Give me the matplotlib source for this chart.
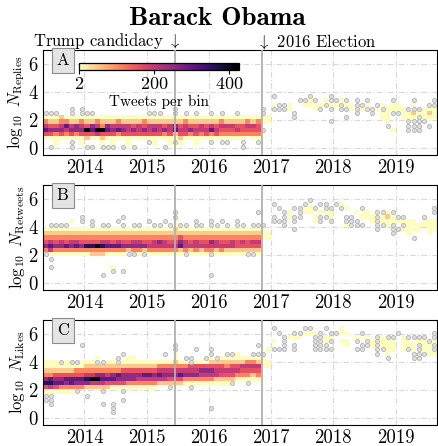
import numpy as np
import matplotlib
matplotlib.use("Agg")
import matplotlib.pyplot as plt

plt.rcParams["font.family"] = "serif"
plt.rcParams["font.serif"] = ["cmr10"]
plt.rcParams["mathtext.fontset"] = "cm"
plt.rcParams["axes.unicode_minus"] = False
plt.rcParams["axes.formatter.use_mathtext"] = True

# monthly bins, May 2013 .. Aug 2019
first_month = 2013 + 4 / 12.0
n_months = 76
candidacy = 2015 + 166 / 365.0   # 16 Jun 2015
election = 2016 + 312 / 365.0    # 8 Nov 2016

# count level codes ("o" = a single tweet, drawn as a dot)
level_counts = {"1": 3, "2": 50, "3": 110, "4": 160, "5": 200, "6": 250, "7": 300, "8": 360, "9": 420}

# dense period May 2013 - Oct 2016, one string per month, rows bottom -> top
replies_band = [
    ".147531.", ".146421.", "1136421.", ".146532.", ".135731.", ".146521.", ".136621.", "1146531.",
    ".249421.", ".147621.", ".159531.", "1249321.", ".147621.", "1146521.", ".137531.", ".146521.",
    "1145521.", ".146421.", ".145521.", ".146431.", ".145521.", "1146521.", ".145521.", ".136421.",
    "1145521.", ".127621.", "1245421.", ".145531.", ".136421.", "1145421.", ".135521.", ".145421.",
    ".137521.", ".145421.", ".134531.", ".134521.", ".134521.", ".135421.", ".134421.", "..34531.",
    ".134521.", ".134431.",
]
replies_extra = [
    (0, 9, "o"), (1, 1, "o"), (1, 9, "o"), (2, 9, "o"), (5, 1, "o"), (5, 2, "o"), (5, 9, "o"), (5, 10, "o"),
    (7, 9, "o"), (7, 10, "o"), (8, 1, "o"), (8, 9, "o"), (9, 1, "o"), (9, 9, "o"), (11, 1, "o"), (12, 1, "o"),
    (13, 1, "o"), (15, 1, "o"), (17, 1, "o"), (20, 2, "o"), (20, 9, "o"), (21, 9, "o"), (22, 9, "o"),
    (23, 1, "o"), (25, 2, "o"), (25, 9, "o"), (25, 10, "o"), (27, 9, "o"), (29, 9, "o"), (32, 2, "o"),
    (32, 9, "o"), (34, 2, "o"), (34, 9, "o"), (35, 2, "o"), (37, 9, "o"), (38, 1, "o"), (38, 2, "o"),
    (41, 2, "o"),
    (42, 5, "o"), (42, 7, "1"), (42, 8, "1"), (42, 9, "o"), (42, 10, "o"), (43, 7, "1"), (43, 8, "1"),
    (44, 10, "o"), (44, 11, "1"), (44, 13, "o"), (45, 10, "o"), (45, 11, "o"), (46, 10, "o"), (46, 11, "o"),
    (47, 10, "1"), (47, 11, "1"), (48, 8, "o"), (48, 9, "o"), (49, 12, "o"), (50, 11, "1"), (50, 12, "o"),
    (51, 11, "1"), (51, 12, "1"), (51, 13, "o"), (52, 10, "1"), (52, 11, "1"), (52, 12, "o"),
    (53, 10, "o"), (53, 11, "1"), (54, 11, "o"), (54, 12, "1"),
    (55, 7, "o"), (55, 10, "o"), (55, 11, "1"), (55, 12, "o"), (55, 13, "o"), (56, 11, "1"), (56, 12, "o"),
    (57, 10, "o"), (57, 11, "o"), (57, 12, "1"), (58, 8, "o"), (58, 10, "o"), (58, 11, "1"), (58, 12, "o"),
    (59, 10, "1"), (59, 11, "1"), (60, 9, "o"), (60, 10, "o"), (60, 11, "o"), (60, 12, "o"),
    (61, 10, "1"), (61, 11, "o"), (62, 10, "o"), (62, 11, "1"), (62, 12, "o"), (63, 9, "o"), (63, 10, "o"),
    (64, 10, "1"), (64, 11, "o"), (65, 8, "1"), (65, 9, "1"), (65, 10, "o"), (65, 11, "1"),
    (66, 6, "o"), (66, 7, "1"), (66, 8, "1"), (66, 9, "1"), (66, 10, "1"),
    (67, 5, "1"), (67, 9, "o"), (67, 10, "1"), (67, 11, "1"), (67, 12, "o"),
    (68, 9, "o"), (68, 10, "1"), (68, 11, "1"), (69, 8, "1"), (69, 9, "1"), (69, 10, "1"),
    (70, 5, "o"), (70, 6, "o"), (70, 7, "o"), (70, 8, "1"), (70, 9, "1"), (70, 10, "o"),
    (71, 5, "o"), (71, 6, "o"), (71, 7, "o"), (71, 8, "1"), (71, 9, "2"), (71, 10, "o"), (71, 11, "1"), (71, 12, "o"),
    (72, 5, "o"), (72, 6, "o"), (72, 7, "o"), (72, 8, "o"), (72, 9, "1"), (72, 10, "o"),
    (73, 7, "o"), (73, 8, "1"), (73, 9, "1"), (73, 10, "1"),
    (74, 6, "o"), (74, 8, "1"), (74, 9, "2"), (74, 10, "1"), (74, 11, "o"),
    (75, 8, "1"), (75, 9, "1"), (75, 10, "1"), (75, 11, "o"), (75, 12, "o"),
]

retweets_band = [
    ".1364321..", ".1575321..", ".1364321..", ".1365321..", ".1374321..", ".1365321.1", ".1375321..",
    ".1364321..", ".1384321..", ".2384321..", ".2394321..", ".2385321..", ".1375321..", ".1374321..",
    ".1375321..", ".1364321..", ".1264321..", ".1365321..", ".1365321..", ".1264321..", ".1354321..",
    ".1355321..", ".1356321..", ".1355321..", ".1354321..", ".1354322..", ".1276421..", ".1355321..",
    ".1254321..", ".1355321..", ".1254321..", ".1354321..", ".1356321..", ".1255321..", ".1354321..",
    ".1254321..", ".1255321..", ".1244321..", ".1245321..", ".1244321..", ".1245321..", ".1245321..",
]
retweets_extra = [
    (0, 8, "o"), (1, 7, "o"), (1, 5, "o"), (1, 15, "o"), (2, 15, "o"), (3, 15, "o"), (4, 15, "o"),
    (7, 16, "o"), (7, 17, "o"), (9, 16, "o"), (9, 15, "o"), (11, 15, "o"), (12, 15, "o"),
    (11, 3, "o"), (13, 4, "o"), (13, 5, "1"), (15, 4, "o"), (14, 16, "o"), (15, 15, "o"), (15, 17, "o"),
    (16, 8, "o"), (17, 8, "o"), (19, 8, "o"), (17, 15, "o"), (18, 15, "o"), (20, 16, "o"), (21, 15, "o"),
    (22, 15, "o"), (23, 16, "o"), (24, 15, "o"), (25, 15, "1"), (25, 16, "1"), (25, 17, "o"), (25, 18, "o"),
    (26, 15, "o"), (27, 15, "o"), (27, 8, "o"), (29, 16, "o"), (29, 15, "o"), (30, 15, "o"),
    (32, 16, "o"), (32, 15, "o"), (32, 8, "o"), (32, 3, "o"), (33, 15, "o"), (34, 16, "o"), (35, 15, "o"),
    (37, 16, "o"), (37, 15, "o"), (38, 15, "o"), (39, 8, "o"), (40, 8, "o"), (40, 15, "o"), (41, 15, "o"),
    (41, 18, "o"),
    (42, 12, "1"), (42, 13, "1"), (42, 14, "1"), (42, 15, "o"), (43, 12, "1"), (43, 13, "1"),
    (44, 20, "o"), (44, 17, "o"), (44, 16, "o"), (45, 19, "o"), (45, 16, "o"),
    (46, 18, "o"), (46, 17, "o"), (46, 16, "o"), (46, 15, "o"), (47, 17, "1"), (47, 18, "1"),
    (48, 19, "o"), (48, 17, "o"), (48, 16, "o"), (48, 14, "o"), (49, 19, "o"), (49, 18, "o"), (49, 17, "o"),
    (50, 20, "o"), (50, 19, "1"), (50, 18, "1"), (51, 21, "o"), (51, 19, "1"), (51, 18, "1"),
    (52, 19, "o"), (52, 17, "1"), (52, 16, "1"), (53, 20, "o"), (53, 17, "o"), (53, 16, "o"), (53, 18, "1"),
    (54, 20, "o"), (54, 19, "o"), (54, 17, "o"), (54, 18, "1"), (55, 19, "o"), (55, 16, "o"), (55, 17, "1"),
    (55, 18, "1"), (56, 20, "o"), (57, 19, "o"), (57, 20, "1"), (58, 17, "o"), (58, 16, "o"), (58, 19, "1"),
    (58, 15, "1"), (59, 17, "o"), (59, 16, "o"), (59, 15, "o"), (60, 16, "o"), (60, 15, "o"), (60, 18, "1"),
    (61, 19, "o"), (61, 15, "o"), (61, 17, "1"), (62, 17, "1"), (62, 18, "1"), (63, 17, "1"), (63, 16, "1"),
    (64, 18, "o"), (64, 17, "o"), (64, 16, "o"), (64, 15, "o"), (64, 14, "o"),
    (65, 18, "o"), (65, 15, "o"), (65, 17, "1"), (65, 16, "1"),
    (66, 17, "2"), (66, 16, "1"), (66, 18, "1"), (66, 15, "1"),
    (67, 18, "o"), (67, 15, "o"), (67, 14, "o"), (67, 13, "o"), (67, 17, "1"), (67, 16, "1"),
    (68, 17, "o"), (68, 14, "o"), (68, 16, "1"), (69, 17, "o"), (69, 15, "o"), (69, 16, "1"), (69, 14, "1"),
    (70, 16, "1"), (70, 15, "1"), (70, 13, "1"), (70, 14, "1"), (71, 12, "o"), (71, 16, "1"), (71, 15, "1"),
    (71, 14, "1"), (72, 14, "1"), (72, 15, "1"), (73, 17, "o"), (73, 16, "1"), (73, 15, "1"),
    (74, 16, "1"), (74, 15, "1"), (74, 14, "1"), (74, 13, "1"),
    (75, 19, "o"), (75, 18, "o"), (75, 16, "1"), (75, 15, "1"), (75, 14, "1"),
]

likes_band = [
    ".14863211..", ".15873211..", ".14764211..", ".13764211..", ".13674211..", ".13774211..",
    "..3674311..", "..3674311..", "..2685321..", "..2595321..", "..25963211.", "..2576321..",
    "..2475321..", "..1476321..", "..1467321..", "..1466421..", "..1366421..", "..13664211.",
    "..1356421..", "..1357421..", "..1357421..", "..1356421..", "...257531..", "...256531..",
    "...246531..", "...24653211", "...247531..", "...136531..", "...136541..", "...136541..",
    "...135641..", "...135641..", "...1356421.", "...1255421.", "...1245421.", "...1245321.",
    "...1245421.", "....135421.", "....134521.", "....134531.", "....124531.", "....134521.",
]
likes_extra = [
    (0, 6, "o"), (0, 5, "o"), (1, 6, "o"), (1, 5, "o"), (1, 4, "o"), (3, 14, "o"), (5, 14, "o"),
    (6, 14, "o"), (6, 7, "o"), (7, 18, "o"), (8, 6, "o"), (10, 14, "o"), (11, 14, "o"), (11, 7, "o"),
    (11, 4, "o"), (13, 4, "o"), (13, 3, "o"), (13, 2, "o"), (14, 15, "o"), (14, 14, "o"),
    (15, 16, "o"), (15, 7, "o"), (15, 5, "o"), (16, 15, "1"), (16, 14, "1"), (23, 16, "o"), (24, 8, "o"),
    (25, 17, "o"), (25, 18, "o"), (25, 16, "1"), (27, 15, "o"), (28, 15, "o"), (28, 14, "o"), (28, 8, "o"),
    (29, 17, "o"), (31, 15, "o"), (32, 17, "o"), (32, 16, "o"), (32, 3, "o"), (33, 15, "o"), (34, 15, "1"),
    (35, 16, "o"), (36, 16, "o"), (36, 9, "o"), (37, 16, "1"), (39, 9, "o"), (40, 16, "o"), (41, 16, "o"),
    (41, 18, "o"),
    (42, 13, "1"), (42, 14, "1"), (42, 15, "1"), (42, 16, "o"), (43, 13, "1"), (43, 14, "1"), (43, 17, "1"),
    (44, 22, "o"), (44, 17, "o"), (44, 19, "1"), (45, 21, "o"), (45, 17, "o"),
    (46, 20, "o"), (46, 19, "o"), (46, 18, "o"), (46, 17, "o"), (47, 20, "1"),
    (48, 21, "o"), (48, 18, "o"), (48, 17, "o"), (48, 20, "1"), (49, 21, "o"), (49, 20, "1"),
    (50, 22, "o"), (50, 21, "1"), (51, 22, "o"), (51, 21, "1"),
    (52, 20, "o"), (52, 19, "o"), (52, 18, "o"), (52, 17, "o"), (52, 21, "1"),
    (53, 21, "o"), (53, 20, "o"), (53, 19, "o"), (53, 18, "o"), (53, 17, "o"),
    (54, 22, "o"), (54, 18, "o"), (54, 17, "o"), (54, 20, "1"), (54, 19, "1"),
    (55, 21, "o"), (55, 19, "o"), (55, 17, "o"), (55, 20, "1"), (56, 21, "o"),
    (57, 21, "1"), (57, 22, "1"), (57, 19, "1"), (58, 21, "1"), (58, 18, "1"), (58, 19, "1"),
    (60, 19, "o"), (60, 17, "o"), (60, 20, "1"), (61, 21, "o"), (61, 18, "o"), (61, 17, "o"),
    (62, 19, "o"), (62, 18, "o"), (62, 20, "1"), (63, 19, "1"), (63, 18, "1"),
    (64, 20, "o"), (64, 19, "o"), (64, 18, "o"), (64, 17, "o"), (64, 16, "o"),
    (65, 17, "o"), (65, 19, "1"), (65, 18, "1"), (65, 20, "1"),
    (66, 20, "o"), (66, 15, "o"), (66, 19, "1"), (66, 18, "1"), (66, 17, "1"), (66, 16, "1"),
    (67, 20, "o"), (67, 19, "1"), (67, 18, "1"), (67, 17, "1"), (68, 21, "o"),
    (69, 20, "1"), (69, 19, "1"), (69, 18, "1"), (69, 17, "1"),
    (70, 20, "o"), (70, 17, "o"), (70, 19, "1"), (70, 18, "1"),
    (71, 20, "o"), (71, 16, "o"), (71, 15, "o"), (71, 18, "1"), (71, 17, "1"),
    (72, 20, "o"), (72, 18, "o"), (72, 17, "o"), (72, 16, "o"), (72, 15, "o"), (72, 19, "1"),
    (73, 20, "o"), (73, 16, "o"), (73, 19, "1"), (73, 18, "1"), (73, 17, "1"),
    (74, 19, "o"), (74, 18, "1"), (74, 17, "1"), (74, 16, "1"),
    (75, 21, "o"), (75, 20, "o"), (75, 18, "o"), (75, 17, "o"), (75, 19, "1"), (75, 16, "1"),
]

# (label, band, first band row, extras, lowest bin edge)
panels = [
    ("Replies", replies_band, 2, replies_extra, -0.35),
    ("Retweets", retweets_band, 7, retweets_extra, -0.5),
    ("Likes", likes_band, 6, likes_extra, -0.35),
]
letters = ["A", "B", "C"]
n_rows = 25
bin_h = 0.3


def build_grid(band, base, extra):
    grid = np.zeros((n_rows, n_months))
    dots = np.zeros((n_rows, n_months), dtype=bool)
    for m, col in enumerate(band):
        for j, c in enumerate(col):
            if c != ".":
                grid[base + j, m] = level_counts[c]
    for m, k, c in extra:
        if c == "o":
            grid[k, m] = 0
            dots[k, m] = True
        else:
            grid[k, m] = level_counts[c]
            dots[k, m] = False
    return grid, dots


fig = plt.figure(figsize=(4.39, 4.46), dpi=100)
bottoms = [1 - 155 / 446.0, 1 - 290 / 446.0, 1 - 425 / 446.0]
left = 43 / 439.0
width = 394 / 439.0
height = 105 / 446.0

xedges = first_month + np.arange(n_months + 1) / 12.0
axes = []
for i, (name, band, base, extra, y0) in enumerate(panels):
    ax = fig.add_axes([left, bottoms[i], width, height])
    axes.append(ax)
    grid, dots = build_grid(band, base, extra)
    yedges = y0 + bin_h * np.arange(n_rows + 1)
    mesh = ax.pcolormesh(xedges, yedges, np.ma.masked_less(grid, 2), cmap="magma_r",
                         vmin=2, vmax=425, zorder=2)
    kk, mm = np.nonzero(dots)
    ax.scatter(xedges[mm] + 1 / 24.0, yedges[kk] + bin_h / 2, s=9, facecolor="#dedede",
               edgecolor="#b4b4b4", linewidth=0.6, zorder=3)
    ax.axvline(candidacy, color="#b0b0b0", lw=1.3, zorder=4)
    ax.axvline(election, color="#b0b0b0", lw=1.3, zorder=4)
    ax.set_xlim(xedges[0], xedges[-1])
    ax.set_ylim(-0.5, 7)
    ax.set_xticks(range(2014, 2020))
    ax.set_xticklabels([str(y) for y in range(2014, 2020)])
    ax.set_yticks([0, 2, 4, 6])
    ax.tick_params(length=0, labelsize=13.5, pad=3)
    ax.grid(True, color="#d8d8d8", lw=0.8, ls=(0, (5, 2, 1, 2)), zorder=0)
    ax.set_axisbelow(True)
    ax.set_ylabel(r"$\log_{10}\ N_{\rm %s}$" % name, fontsize=12, labelpad=1)
    ax.text(0.035, 0.9, letters[i], transform=ax.transAxes, fontsize=12, va="center", ha="left",
            bbox=dict(boxstyle="square,pad=0.3", fc="#e4e4e4", ec="#8c8c8c", lw=0.8), zorder=6)
    if i == 0:
        cmesh = mesh

# colour bar inside panel A
cax = axes[0].inset_axes([0.091, 0.81, 0.406, 0.066])
cb = fig.colorbar(cmesh, cax=cax, orientation="horizontal", ticks=[2, 200, 400])
cb.outline.set_linewidth(0.9)
cax.tick_params(labelsize=13, length=3, pad=1)
cax.set_xlabel("Tweets per bin", fontsize=11, labelpad=2)

# event annotations above panel A
axes[0].annotate("Trump candidacy $\\downarrow$", xy=(candidacy, 1), xycoords=("data", "axes fraction"),
                 xytext=(4, -1), textcoords="offset points", ha="right", va="bottom", fontsize=12)
axes[0].annotate("$\\downarrow$ 2016 Election", xy=(election, 1), xycoords=("data", "axes fraction"),
                 xytext=(-4, -1), textcoords="offset points", ha="left", va="bottom", fontsize=12)

fig.text(0.495, 1 - 25 / 446.0, "Barack Obama", fontfamily="cmb10", fontsize=19.5, ha="center",
         va="baseline")

fig.savefig("out.png", dpi=100)
